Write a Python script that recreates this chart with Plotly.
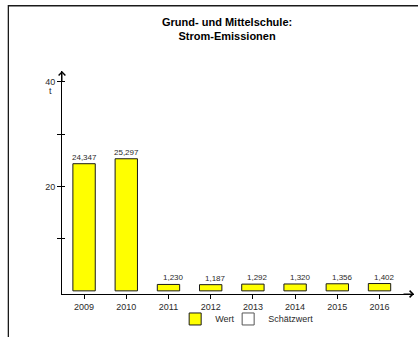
import plotly.graph_objects as go

years = ["2009", "2010", "2011", "2012", "2013", "2014", "2015", "2016"]
wert = [24.347, 25.297, 1.230, 1.187, 1.292, 1.320, 1.356, 1.402]
labels = ["24,347", "25,297", "1,230", "1,187", "1,292", "1,320", "1,356", "1,402"]
y_ticks = [10, 20, 30, 40]
y_ticktext = ["", "20", "", "40"]
title_lines = ["Grund- und Mittelschule:", "Strom-Emissionen"]
series_names = ["Wert", "Schätzwert"]
unit = "t"

FONT = "Liberation Sans, Arial, sans-serif"
TXT = "#2a2a2a"

fig = go.Figure()
fig.add_trace(go.Bar(
    x=years, y=wert, name=series_names[0], width=0.53, legend="legend",
    marker=dict(color="#ffff00", line=dict(color="#1a1a1a", width=1)),
))
fig.add_trace(go.Bar(
    x=[None], y=[None], name=series_names[1], legend="legend2",
    marker=dict(color="#ffffff", line=dict(color="#555555", width=1)),
))
fig.add_trace(go.Scatter(x=[None], y=[None], yaxis="y2", showlegend=False, hoverinfo="skip"))

annotations = []
for i, (v, lab) in enumerate(zip(wert, labels)):
    annotations.append(dict(
        x=i, y=v, xref="x", yref="y", text=lab, showarrow=False,
        yanchor="bottom", xanchor="center",
        xshift=5 if v < 5 else 0, yshift=0,
        font=dict(family=FONT, size=8, color=TXT),
    ))
# title
annotations.append(dict(xref="paper", yref="paper", x=0.4683, y=1.0, yshift=42,
                        text="<b>%s</b>" % "<br>".join(title_lines), showarrow=False,
                        xanchor="center", yanchor="middle",
                        font=dict(family=FONT, size=11, color="#000")))
# unit
annotations.append(dict(xref="paper", x=0, y=40, yref="y", xshift=-8, yshift=-9,
                        text=unit, showarrow=False, xanchor="right", yanchor="middle",
                        font=dict(family=FONT, size=9, color=TXT)))
# axis arrows
annotations.append(dict(xref="paper", yref="paper", x=0, y=1, ax=0, ay=12, text="",
                        showarrow=True, arrowhead=4, arrowsize=1.3, arrowwidth=1,
                        arrowcolor="#000"))
annotations.append(dict(xref="paper", yref="paper", x=1, y=0, ax=-12, ay=0, text="",
                        showarrow=True, arrowhead=4, arrowsize=1.3, arrowwidth=1,
                        arrowcolor="#000"))

legend_common = dict(orientation="h", y=-0.112, yanchor="middle", xanchor="left",
                     font=dict(family=FONT, size=9, color=TXT), itemwidth=30,
                     bgcolor="rgba(0,0,0,0)")

fig.update_layout(
    width=418, height=337,
    margin=dict(l=62, r=4, t=71, b=37),
    paper_bgcolor="white", plot_bgcolor="white",
    font=dict(family=FONT, size=9, color=TXT),
    showlegend=True,
    legend=dict(x=0.3215, **legend_common),
    legend2=dict(x=0.472, **legend_common),
    xaxis=dict(type="category", range=[-0.523, 7.817], showline=True, linecolor="#000",
               linewidth=1, ticks="outside", ticklen=4, tickcolor="#000",
               showgrid=False, zeroline=False, tickfont=dict(size=9, color=TXT)),
    yaxis=dict(range=[-0.6, 42.1], showline=True, linecolor="#000", linewidth=1,
               ticks="outside", ticklen=4, tickcolor="#000", tickvals=y_ticks,
               ticktext=y_ticktext, showgrid=False, zeroline=False,
               tickfont=dict(size=9, color=TXT)),
    yaxis2=dict(overlaying="y", side="left", range=[-0.6, 42.1], ticks="inside", ticklen=3,
                tickcolor="#000", tickvals=y_ticks, showticklabels=False,
                showline=False, showgrid=False, zeroline=False),
    annotations=annotations,
    shapes=[dict(type="rect", xref="paper", yref="paper", x0=-0.1524, x1=1.06,
                 y0=-0.35, y1=1.2926, line=dict(color="#1a1a1a", width=1.3),
                 fillcolor="rgba(0,0,0,0)", layer="above")],
)

fig.write_html(
    "out.html",
    config={"displayModeBar": False},
    post_script="document.body.style.margin='0';document.body.style.overflow='hidden';",
)
